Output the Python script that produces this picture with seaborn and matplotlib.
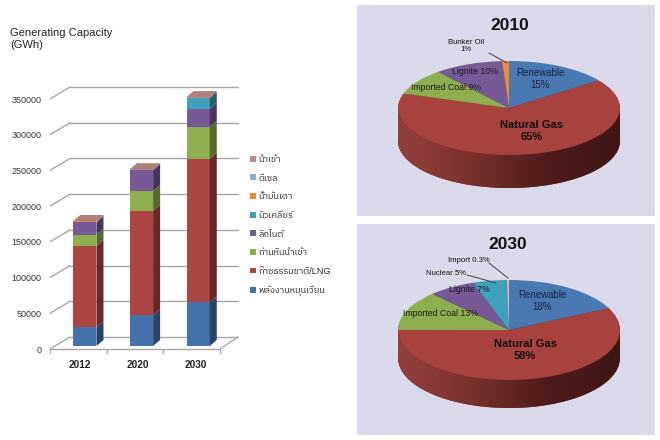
import numpy as np
import pandas as pd
import matplotlib
matplotlib.use("Agg")
import matplotlib.pyplot as plt
import seaborn as sns
from matplotlib.patches import Patch, Polygon
from matplotlib.lines import Line2D
from matplotlib.colors import LinearSegmentedColormap
from matplotlib import font_manager
from matplotlib.ft2font import FT2Font

# ---------------- data ----------------
years = ["2012", "2020", "2030"]
renewable = [26000, 43000, 61000]
natural_gas = [114000, 146000, 201000]
imported_coal = [16000, 28000, 45000]
lignite = [17000, 29000, 25000]
nuclear = [0, 0, 15000]
bunker_oil = [1500, 0, 0]
diesel = [0, 0, 0]
imports = [500, 1500, 1500]

series_names = ["พลังงานหมุนเวียน", "ก๊าซธรรมชาติ/LNG", "ถ่านหินนำเข้า", "ลิกไนต์",
                "นิวเคลียร์", "น้ำมันเตา", "ดีเซล", "นำเข้า"]
series_colors = ["#4672ab", "#aa4542", "#8fae4f", "#765a98",
                 "#3fa0bb", "#ec8a3c", "#8eabd0", "#c08a86"]
y_ticks = [0, 50000, 100000, 150000, 200000, 250000, 300000, 350000]

pie2010_labels = ["Renewable", "Natural Gas", "Imported Coal", "Lignite", "Bunker Oil"]
pie2010_values = [15, 65, 9, 10, 1]
pie2010_colors = ["#4a78b2", "#a8423f", "#8fae4f", "#765a98", "#ec8a3c"]

pie2030_labels = ["Renewable", "Natural Gas", "Imported Coal", "Lignite", "Nuclear", "Import"]
pie2030_values = [18, 58, 13, 7, 5, 0.3]
pie2030_colors = ["#4a78b2", "#a8423f", "#8fae4f", "#765a98", "#3fa0bb", "#e6b9b8"]

# ---------------- fonts ----------------
def find_thai_family():
    found = []
    for f in font_manager.fontManager.ttflist:
        try:
            if 0x0E01 in FT2Font(f.fname).get_charmap():
                found.append(f.name)
        except Exception:
            pass
    for pref in found:
        if "Thai" in pref:
            return pref
    return found[0] if found else None

sns.set_theme(style="white")
thai = find_thai_family()
fam = ["Liberation Sans"] + ([thai] if thai else []) + ["DejaVu Sans"]
plt.rcParams["font.family"] = fam

W, H = 660, 440
fig = plt.figure(figsize=(W / 100, H / 100), dpi=100)
fig.patch.set_facecolor("white")

def fx(px):
    return px / W

def fy(py):
    return 1 - py / H

def darker(c, f):
    r, g, b = matplotlib.colors.to_rgb(c)
    return (r * f, g * f, b * f)

# ---------------- bar chart ----------------
ax_left, ax_right, ax_bottom, ax_top = 50, 240, 349, 60
ypp = 1400.0                      # data units per pixel (y)
xpp = 3.36 / (ax_right - ax_left)  # data units per pixel (x)
ax = fig.add_axes([fx(ax_left), fy(ax_bottom), fx(ax_right - ax_left), (ax_bottom - ax_top) / H])

vals = np.array([renewable, natural_gas, imported_coal, lignite, nuclear,
                 bunker_oil, diesel, imports], dtype=float).T  # years x series
cum = np.cumsum(vals, axis=1)

bw = 0.41
for k in reversed(range(len(series_names))):
    sns.barplot(x=years, y=cum[:, k], color=series_colors[k], width=bw,
                errorbar=None, saturation=1, linewidth=0, ax=ax, zorder=3)

shift_x = 6.5 * xpp
shift_y = 3 * ypp
for p in ax.patches:
    p.set_x(p.get_x() + shift_x)
    p.set_y(p.get_y() + shift_y)

dx, dy = 7 * xpp, 6 * ypp
for i in range(len(years)):
    xr = i + bw / 2 + shift_x
    xl = i - bw / 2 + shift_x
    top_k = None
    for k in range(len(series_names)):
        if vals[i, k] <= 0:
            continue
        b = (cum[i, k - 1] if k > 0 else 0) + shift_y
        t = cum[i, k] + shift_y
        ax.fill([xr, xr + dx, xr + dx, xr], [b, b + dy, t + dy, t],
                color=darker(series_colors[k], 0.6), lw=0, zorder=3)
        top_k = k
    T = cum[i, -1] + shift_y
    ax.fill([xl, xl + dx, xr + dx, xr], [T, T + dy, T + dy, T],
            color=darker(series_colors[top_k], 0.92), lw=0, zorder=3)

x0 = -0.5
x_floor = 2.5
dxw, dyw = 20 * xpp, 12 * ypp
gcol = "#a6a6a6"
for v in y_ticks:
    ax.plot([x0 + dxw, x_floor + dxw - 2 * xpp], [v + dyw, v + dyw], color=gcol, lw=1, zorder=1)
    ax.plot([x0, x0 + dxw], [v, v + dyw], color=gcol, lw=1, zorder=1)
ax.plot([x0, x_floor], [0, 0], color=gcol, lw=1, zorder=1, clip_on=False)
ax.plot([x_floor, x_floor + dxw - 2 * xpp], [0, dyw], color=gcol, lw=1, zorder=1)
for bnd in [-0.5, 0.5, 1.5, 2.5]:
    ax.plot([bnd, bnd], [0, -4 * ypp], color=gcol, lw=1, clip_on=False)

ax.set_xlim(x0, x_floor + dxw)
ax.set_ylim(0, (ax_bottom - ax_top) * ypp)
for s in ax.spines.values():
    s.set_visible(False)
ax.set_yticks(y_ticks)
ax.set_yticklabels([str(v) for v in y_ticks], fontsize=6.5, color="#333333")
ax.set_xticks([0.03, 1.05, 2.07])
ax.set_xticklabels(years, fontsize=7.2, fontweight="bold", color="#222222")
ax.tick_params(axis="y", length=0, pad=6)
ax.tick_params(axis="x", length=0, pad=8)
ax.set_xlabel("")
ax.set_ylabel("")
ax.grid(False)
ax.set_facecolor("none")

fig.text(fx(10), fy(28), "Generating Capacity\n(GWh)", ha="left", va="top",
         fontsize=8, color="#222222", linespacing=1.25)

handles = [Patch(facecolor=series_colors[k], edgecolor="none") for k in reversed(range(len(series_names)))]
labels = list(reversed(series_names))
fig.legend(handles, labels, loc="upper left", bbox_to_anchor=(fx(250), fy(155)),
           frameon=False, fontsize=6.6, handlelength=0.6, handleheight=0.6,
           handletextpad=0.35, labelspacing=1.05, borderaxespad=0, borderpad=0)

# ---------------- pies ----------------
panel_col = "#dadaea"
side_cmap = LinearSegmentedColormap.from_list("side", ["#93403d", "#7a302d", "#4e1c1a", "#3e1614"])

def draw_pie(rect, cx, cy, a, b, thick, values, colors):
    l, t, r, bt = rect
    axp = fig.add_axes([fx(l), fy(bt), fx(r - l), (bt - t) / H])
    th = thick / b
    for off in np.linspace(th, 0, 30)[:-1]:
        axp.pie(values, colors=[darker(c, 0.55) for c in colors], startangle=90,
                counterclock=False, center=(0, -off), radius=1,
                wedgeprops=dict(linewidth=0))
    # shaded side band (gradient left -> right)
    xs = np.linspace(-1, 1, 200)
    upper = -np.sqrt(np.clip(1 - xs ** 2, 0, None))
    band = np.concatenate([np.column_stack([xs, upper]),
                           np.column_stack([xs[::-1], upper[::-1] - th])])
    poly = Polygon(band, closed=True, facecolor="none", edgecolor="none")
    axp.add_patch(poly)
    grad = np.linspace(0, 1, 256).reshape(1, -1)
    im = axp.imshow(grad, extent=(-1, 1, -1 - th, 0), cmap=side_cmap, aspect="auto", zorder=1.5)
    im.set_clip_path(poly)
    axp.pie(values, colors=colors, startangle=90, counterclock=False,
            center=(0, 0), radius=1, wedgeprops=dict(linewidth=0, zorder=2))
    axp.set_aspect("auto")
    axp.set_xlim((l - cx) / a, (r - cx) / a)
    axp.set_ylim(-(bt - cy) / b, (cy - t) / b)
    axp.set_frame_on(True)
    for s in axp.spines.values():
        s.set_visible(False)
    axp.set_xticks([])
    axp.set_yticks([])
    axp.set_facecolor(panel_col)
    return axp

draw_pie((357, 5, 655, 216), 509, 108, 111, 47, 33, pie2010_values, pie2010_colors)
draw_pie((357, 224, 655, 435), 509, 330, 111, 50, 28, pie2030_values, pie2030_colors)

def t(xp, yp, s, size, weight="normal", color="#111111", ls=1.15):
    fig.text(fx(xp), fy(yp), s, ha="center", va="center", fontsize=size,
             fontweight=weight, color=color, linespacing=ls)

def line(p1, p2):
    fig.add_artist(Line2D([fx(p1[0]), fx(p2[0])], [fy(p1[1]), fy(p2[1])],
                          color="#404040", lw=0.7, transform=fig.transFigure))

# 2010
t(510, 25, "2010", 12.5, "bold")
t(540, 79, f"{pie2010_labels[0]}\n{pie2010_values[0]}%", 7, color="#1a2240")
t(532, 131, f"{pie2010_labels[1]}\n{pie2010_values[1]}%", 8, "bold")
t(446, 88, f"{pie2010_labels[2]} {pie2010_values[2]}%", 6.3, color="#1a1a1a")
t(475, 72, f"{pie2010_labels[3]} {pie2010_values[3]}%", 6.3, color="#1a1a1a")
t(466, 46, f"{pie2010_labels[4]}\n{pie2010_values[4]}%", 5.6)
line((489, 53), (507, 63))

# 2030
t(508, 244, "2030", 12.5, "bold")
t(542, 301, f"{pie2030_labels[0]}\n{pie2030_values[0]}%", 7, color="#1a2240")
t(525, 350, f"{pie2030_labels[1]}\n{pie2030_values[1]}%", 8, "bold")
t(440, 313, f"{pie2030_labels[2]} {pie2030_values[2]}%", 6.3, color="#1a1a1a")
t(469, 290, f"{pie2030_labels[3]} {pie2030_values[3]}%", 6.3, color="#1a1a1a")
t(446, 273, f"{pie2030_labels[4]} {pie2030_values[4]}%", 5.6)
t(469, 261, f"{pie2030_labels[5]} {pie2030_values[5]}%", 5.6)
line((467, 275), (496, 283))
line((489, 263), (508, 278))

fig.savefig("out.png", dpi=100, facecolor="white")
